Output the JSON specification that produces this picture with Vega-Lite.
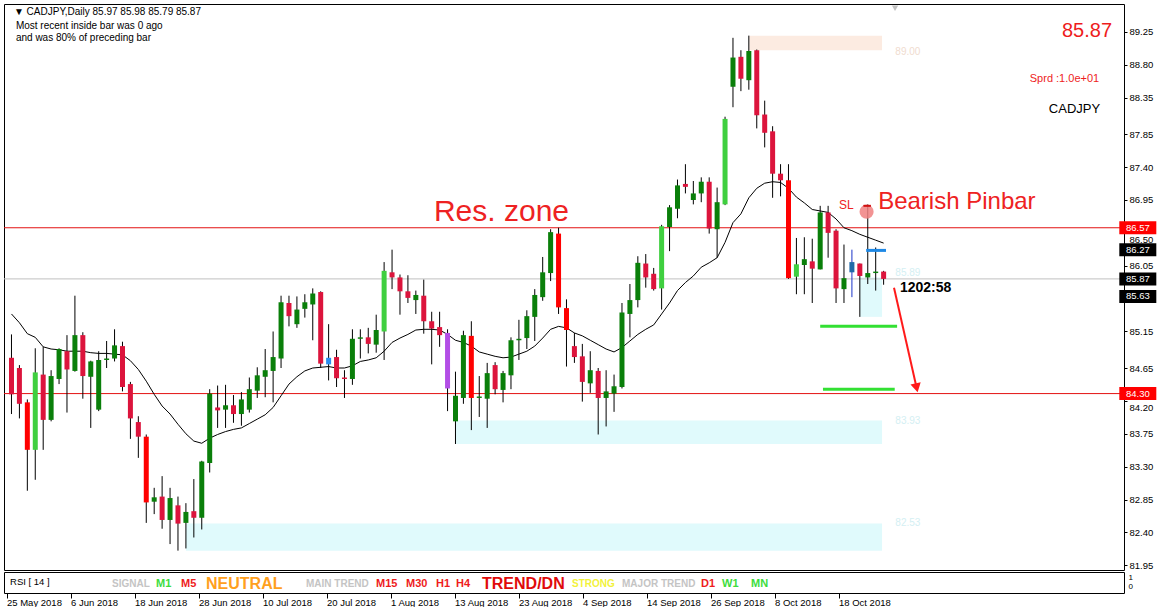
{
"$schema":"https://vega.github.io/schema/vega-lite/v6.json",
"background":"white",
"padding":{"left":3,"top":3,"right":0,"bottom":0},
"spacing":2,
"bounds":"flush",
"config":{"font":"Liberation Sans","view":{"stroke":"#000000","strokeWidth":1},
 "axis":{"labelFont":"Liberation Sans","labelFontSize":9.5,"labelColor":"#000000","tickColor":"#000000","domain":false,"grid":false,"labelOverlap":false,"labelFlush":false}},
"datasets":{"candles":[
{"i":0,"o":84.79,"h":85.11,"l":84.02,"c":84.29,"ma":85.39,"t":"bear"},
{"i":1,"o":84.65,"h":84.69,"l":83.96,"c":84.16,"ma":85.27,"t":"bear"},
{"i":2,"o":84.18,"h":84.22,"l":82.97,"c":83.53,"ma":85.12,"t":"sbear"},
{"i":3,"o":83.53,"h":84.92,"l":83.12,"c":84.59,"ma":85.07,"t":"sbull"},
{"i":4,"o":84.56,"h":84.94,"l":83.53,"c":83.94,"ma":84.94,"t":"bear"},
{"i":5,"o":83.94,"h":84.62,"l":83.92,"c":84.54,"ma":84.91,"t":"bull"},
{"i":6,"o":84.50,"h":84.92,"l":84.43,"c":84.91,"ma":84.90,"t":"bull"},
{"i":7,"o":84.88,"h":85.10,"l":84.04,"c":84.63,"ma":84.88,"t":"bear"},
{"i":8,"o":84.61,"h":85.64,"l":84.60,"c":85.10,"ma":84.88,"t":"bull"},
{"i":9,"o":85.10,"h":85.14,"l":84.23,"c":84.54,"ma":84.88,"t":"bear"},
{"i":10,"o":84.53,"h":84.75,"l":83.83,"c":84.74,"ma":84.86,"t":"bull"},
{"i":11,"o":84.08,"h":84.88,"l":84.06,"c":84.76,"ma":84.85,"t":"bull"},
{"i":12,"o":84.76,"h":85.02,"l":84.65,"c":84.78,"ma":84.85,"t":"bull"},
{"i":13,"o":84.78,"h":85.18,"l":84.74,"c":84.96,"ma":84.84,"t":"bull"},
{"i":14,"o":84.95,"h":85.01,"l":84.33,"c":84.39,"ma":84.83,"t":"bear"},
{"i":15,"o":84.43,"h":84.46,"l":83.68,"c":83.96,"ma":84.75,"t":"bear"},
{"i":16,"o":83.91,"h":83.99,"l":83.42,"c":83.71,"ma":84.63,"t":"bear"},
{"i":17,"o":83.71,"h":83.74,"l":82.53,"c":82.81,"ma":84.47,"t":"sbear"},
{"i":18,"o":82.82,"h":83.01,"l":82.65,"c":82.88,"ma":84.29,"t":"bull"},
{"i":19,"o":82.89,"h":83.17,"l":82.45,"c":82.57,"ma":84.13,"t":"bear"},
{"i":20,"o":82.57,"h":83.01,"l":82.24,"c":82.87,"ma":84.02,"t":"bull"},
{"i":21,"o":82.77,"h":82.89,"l":82.15,"c":82.52,"ma":83.88,"t":"bear"},
{"i":22,"o":82.53,"h":82.80,"l":82.18,"c":82.68,"ma":83.75,"t":"bull"},
{"i":23,"o":82.69,"h":83.13,"l":82.33,"c":82.60,"ma":83.65,"t":"bear"},
{"i":24,"o":82.60,"h":83.38,"l":82.44,"c":83.37,"ma":83.62,"t":"bull"},
{"i":25,"o":83.35,"h":84.36,"l":83.22,"c":84.30,"ma":83.69,"t":"bull"},
{"i":26,"o":84.11,"h":84.41,"l":83.83,"c":84.07,"ma":83.74,"t":"bear"},
{"i":27,"o":84.08,"h":84.42,"l":83.83,"c":84.14,"ma":83.78,"t":"bull"},
{"i":28,"o":84.14,"h":84.28,"l":83.90,"c":84.02,"ma":83.81,"t":"bear"},
{"i":29,"o":84.02,"h":84.32,"l":83.86,"c":84.22,"ma":83.83,"t":"bull"},
{"i":30,"o":84.08,"h":84.52,"l":84.04,"c":84.36,"ma":83.89,"t":"bull"},
{"i":31,"o":84.34,"h":84.66,"l":84.24,"c":84.55,"ma":83.95,"t":"bull"},
{"i":32,"o":84.53,"h":84.91,"l":84.25,"c":84.62,"ma":84.01,"t":"bull"},
{"i":33,"o":84.61,"h":85.15,"l":84.18,"c":84.80,"ma":84.11,"t":"bull"},
{"i":34,"o":84.78,"h":85.64,"l":84.65,"c":85.55,"ma":84.27,"t":"bull"},
{"i":35,"o":85.54,"h":85.64,"l":85.22,"c":85.36,"ma":84.43,"t":"bear"},
{"i":36,"o":85.25,"h":85.63,"l":85.20,"c":85.45,"ma":84.53,"t":"bull"},
{"i":37,"o":85.46,"h":85.66,"l":85.34,"c":85.55,"ma":84.61,"t":"bull"},
{"i":38,"o":85.52,"h":85.74,"l":85.03,"c":85.67,"ma":84.65,"t":"bull"},
{"i":39,"o":85.69,"h":85.70,"l":84.65,"c":84.71,"ma":84.66,"t":"bear"},
{"i":40,"o":84.70,"h":85.25,"l":84.48,"c":84.79,"ma":84.67,"t":"blue"},
{"i":41,"o":84.80,"h":84.90,"l":84.39,"c":84.51,"ma":84.65,"t":"bear"},
{"i":42,"o":84.52,"h":84.62,"l":84.24,"c":84.50,"ma":84.65,"t":"bear"},
{"i":43,"o":84.50,"h":85.18,"l":84.42,"c":85.05,"ma":84.68,"t":"bull"},
{"i":44,"o":85.05,"h":85.18,"l":84.78,"c":85.07,"ma":84.74,"t":"bull"},
{"i":45,"o":85.07,"h":85.20,"l":84.85,"c":84.98,"ma":84.76,"t":"bear"},
{"i":46,"o":84.97,"h":85.38,"l":84.86,"c":85.17,"ma":84.79,"t":"bull"},
{"i":47,"o":85.15,"h":86.10,"l":84.76,"c":85.98,"ma":84.88,"t":"sbull"},
{"i":48,"o":85.96,"h":86.27,"l":85.73,"c":85.89,"ma":85.00,"t":"bear"},
{"i":49,"o":85.89,"h":85.93,"l":85.38,"c":85.70,"ma":85.06,"t":"bear"},
{"i":50,"o":85.70,"h":85.92,"l":85.54,"c":85.61,"ma":85.11,"t":"bear"},
{"i":51,"o":85.58,"h":85.71,"l":85.39,"c":85.65,"ma":85.17,"t":"bull"},
{"i":52,"o":85.64,"h":85.86,"l":85.12,"c":85.29,"ma":85.18,"t":"bear"},
{"i":53,"o":85.29,"h":85.42,"l":84.70,"c":85.19,"ma":85.18,"t":"bear"},
{"i":54,"o":85.21,"h":85.42,"l":84.94,"c":85.10,"ma":85.17,"t":"bear"},
{"i":55,"o":85.13,"h":85.18,"l":84.06,"c":84.37,"ma":85.11,"t":"purple"},
{"i":56,"o":83.92,"h":84.60,"l":83.61,"c":84.27,"ma":85.03,"t":"bull"},
{"i":57,"o":84.24,"h":85.16,"l":84.16,"c":85.10,"ma":85.00,"t":"bull"},
{"i":58,"o":85.09,"h":85.29,"l":83.80,"c":84.24,"ma":84.95,"t":"sbear"},
{"i":59,"o":84.24,"h":84.54,"l":83.98,"c":84.26,"ma":84.87,"t":"bull"},
{"i":60,"o":84.23,"h":84.72,"l":83.83,"c":84.58,"ma":84.84,"t":"bull"},
{"i":61,"o":84.69,"h":84.73,"l":84.29,"c":84.36,"ma":84.81,"t":"bear"},
{"i":62,"o":84.35,"h":84.61,"l":84.18,"c":84.58,"ma":84.79,"t":"bull"},
{"i":63,"o":84.55,"h":85.07,"l":84.36,"c":85.03,"ma":84.80,"t":"bull"},
{"i":64,"o":85.03,"h":85.31,"l":84.76,"c":85.05,"ma":84.84,"t":"bull"},
{"i":65,"o":85.06,"h":85.44,"l":84.91,"c":85.36,"ma":84.88,"t":"bull"},
{"i":66,"o":85.35,"h":85.73,"l":85.02,"c":85.65,"ma":84.95,"t":"bull"},
{"i":67,"o":85.62,"h":86.17,"l":85.57,"c":85.96,"ma":85.06,"t":"bull"},
{"i":68,"o":85.95,"h":86.55,"l":85.84,"c":86.51,"ma":85.18,"t":"bull"},
{"i":69,"o":86.49,"h":86.57,"l":85.39,"c":85.48,"ma":85.22,"t":"sbear"},
{"i":70,"o":85.47,"h":85.59,"l":84.67,"c":85.17,"ma":85.20,"t":"sbear"},
{"i":71,"o":84.95,"h":85.13,"l":84.72,"c":84.80,"ma":85.13,"t":"bear"},
{"i":72,"o":84.81,"h":84.98,"l":84.19,"c":84.46,"ma":85.09,"t":"bear"},
{"i":73,"o":84.44,"h":84.88,"l":84.31,"c":84.62,"ma":85.03,"t":"bull"},
{"i":74,"o":84.61,"h":84.65,"l":83.74,"c":84.24,"ma":84.97,"t":"bear"},
{"i":75,"o":84.24,"h":84.62,"l":83.85,"c":84.33,"ma":84.91,"t":"bull"},
{"i":76,"o":84.30,"h":84.56,"l":84.05,"c":84.40,"ma":84.87,"t":"bull"},
{"i":77,"o":84.39,"h":85.54,"l":84.37,"c":85.41,"ma":84.93,"t":"bull"},
{"i":78,"o":85.39,"h":85.80,"l":85.07,"c":85.58,"ma":85.02,"t":"bull"},
{"i":79,"o":85.58,"h":86.18,"l":85.48,"c":86.09,"ma":85.11,"t":"bull"},
{"i":80,"o":86.08,"h":86.21,"l":85.75,"c":85.89,"ma":85.18,"t":"bear"},
{"i":81,"o":85.94,"h":86.02,"l":85.71,"c":85.73,"ma":85.24,"t":"bear"},
{"i":82,"o":85.74,"h":86.61,"l":85.45,"c":86.59,"ma":85.39,"t":"sbull"},
{"i":83,"o":86.58,"h":86.88,"l":86.25,"c":86.85,"ma":85.54,"t":"bull"},
{"i":84,"o":86.83,"h":87.23,"l":86.70,"c":87.15,"ma":85.71,"t":"bull"},
{"i":85,"o":87.17,"h":87.44,"l":87.04,"c":87.13,"ma":85.82,"t":"bear"},
{"i":86,"o":86.95,"h":87.21,"l":86.89,"c":87.04,"ma":85.91,"t":"bull"},
{"i":87,"o":87.04,"h":87.26,"l":86.92,"c":87.20,"ma":86.03,"t":"bull"},
{"i":88,"o":87.20,"h":87.26,"l":86.49,"c":86.56,"ma":86.09,"t":"bear"},
{"i":89,"o":86.55,"h":87.12,"l":86.16,"c":86.92,"ma":86.16,"t":"bull"},
{"i":90,"o":86.89,"h":88.09,"l":86.88,"c":88.06,"ma":86.37,"t":"sbull"},
{"i":91,"o":88.50,"h":89.17,"l":88.22,"c":88.90,"ma":86.64,"t":"bull"},
{"i":92,"o":88.91,"h":89.00,"l":88.44,"c":88.61,"ma":86.76,"t":"bear"},
{"i":93,"o":88.59,"h":89.20,"l":88.46,"c":88.99,"ma":86.98,"t":"bull"},
{"i":94,"o":89.00,"h":89.01,"l":87.93,"c":88.11,"ma":87.11,"t":"bear"},
{"i":95,"o":88.12,"h":88.31,"l":87.67,"c":87.87,"ma":87.18,"t":"bear"},
{"i":96,"o":87.89,"h":87.96,"l":86.98,"c":87.31,"ma":87.20,"t":"bear"},
{"i":97,"o":87.31,"h":87.44,"l":87.00,"c":87.22,"ma":87.19,"t":"bear"},
{"i":98,"o":87.22,"h":87.44,"l":85.87,"c":85.88,"ma":87.11,"t":"sbear"},
{"i":99,"o":85.90,"h":86.43,"l":85.66,"c":86.07,"ma":86.99,"t":"sbull"},
{"i":100,"o":86.06,"h":86.44,"l":85.66,"c":86.14,"ma":86.91,"t":"bull"},
{"i":101,"o":86.11,"h":86.42,"l":85.54,"c":86.01,"ma":86.82,"t":"bear"},
{"i":102,"o":86.00,"h":86.87,"l":86.00,"c":86.78,"ma":86.80,"t":"bull"},
{"i":103,"o":86.78,"h":86.87,"l":86.16,"c":86.50,"ma":86.78,"t":"bear"},
{"i":104,"o":86.53,"h":86.55,"l":85.54,"c":85.74,"ma":86.69,"t":"bear"},
{"i":105,"o":85.73,"h":86.34,"l":85.54,"c":85.88,"ma":86.57,"t":"bull"},
{"i":106,"o":85.96,"h":86.27,"l":85.62,"c":86.10,"ma":86.53,"t":"teal"},
{"i":107,"o":86.08,"h":86.08,"l":85.35,"c":85.91,"ma":86.48,"t":"bear"},
{"i":108,"o":85.89,"h":86.89,"l":85.80,"c":85.95,"ma":86.44,"t":"bull"},
{"i":109,"o":85.95,"h":86.30,"l":85.71,"c":85.97,"ma":86.40,"t":"bull"},
{"i":110,"o":85.97,"h":85.98,"l":85.79,"c":85.87,"ma":86.36,"t":"bear"}
]},
"vconcat":[
{"width":1120,"height":566,
 "resolve":{"axis":{"x":"independent","y":"independent"}},
 "layer":[
  {"data":{"values":[{"a":93.06,"b":109.8,"lo":89.0,"hi":89.2}]},
   "mark":{"type":"rect","color":"#fcebe1"},
   "encoding":{
    "x":{"field":"a","type":"quantitative","scale":{"domain":[-0.3125,139.6875],"nice":false,"zero":false},"axis":null},
    "x2":{"field":"b"},
    "y":{"field":"lo","type":"quantitative","scale":{"domain":[81.885,89.633],"nice":false,"zero":false},
     "axis":{"orient":"right","title":null,"values":[89.25,88.8,88.35,87.85,87.4,86.95,86.5,86.05,85.15,84.65,84.2,83.75,83.3,82.85,82.4,81.95],"format":".2f","tickSize":3,"labelPadding":2,"labelAlign":"left","labelBaseline":"middle","labelFontSize":9.5,"labelColor":"#000000","tickColor":"#000000","domain":false,"grid":false,
      "labelOffset":{"condition":{"test":"datum.value == 86.5 || datum.value == 84.2","value":7},"value":0}}},
    "y2":{"field":"hi"}}},
  {"data":{"values":[{"a":56.0,"b":109.8,"lo":83.61,"hi":83.93},{"a":22.0,"b":109.8,"lo":82.15,"hi":82.52},{"a":107.0,"b":109.8,"lo":85.35,"hi":85.89}]},
   "mark":{"type":"rect","color":"#e0fafc"},
   "encoding":{
    "x":{"field":"a","type":"quantitative","scale":{"domain":[-0.3125,139.6875],"nice":false,"zero":false},"axis":null},
    "x2":{"field":"b"},
    "y":{"field":"lo","type":"quantitative","scale":{"domain":[81.885,89.633],"nice":false,"zero":false},"axis":null},
    "y2":{"field":"hi"}}},
  {"data":{"values":[{"p":85.87}]},
   "mark":{"type":"rule","color":"#c0c0c0","strokeWidth":1},
   "encoding":{"y":{"field":"p","type":"quantitative","scale":{"domain":[81.885,89.633],"nice":false,"zero":false},"axis":null}}},
  {"data":{"values":[{"p":86.57},{"p":84.30}]},
   "mark":{"type":"rule","color":"#e31212","strokeWidth":1},
   "encoding":{"y":{"field":"p","type":"quantitative","scale":{"domain":[81.885,89.633],"nice":false,"zero":false},"axis":null}}},
  {"data":{"name":"candles"},
   "mark":{"type":"line","color":"#000000","strokeWidth":1},
   "encoding":{
    "x":{"field":"i","type":"quantitative","scale":{"domain":[-0.3125,139.6875],"nice":false,"zero":false},"axis":null},
    "y":{"field":"ma","type":"quantitative","scale":{"domain":[81.885,89.633],"nice":false,"zero":false},"axis":null}}},
  {"data":{"name":"candles"},
   "mark":{"type":"rule","strokeWidth":1},
   "encoding":{
    "x":{"field":"i","type":"quantitative","scale":{"domain":[-0.3125,139.6875],"nice":false,"zero":false},"axis":null},
    "y":{"field":"l","type":"quantitative","scale":{"domain":[81.885,89.633],"nice":false,"zero":false},"axis":null},
    "y2":{"field":"h"},
    "stroke":{"field":"t","type":"nominal","legend":null,"scale":{"domain":["bull","sbull","bear","sbear","purple","blue","teal"],"range":["#000000","#000000","#000000","#000000","#000000","#000000","#1a33c8"]}}}},
  {"data":{"name":"candles"},
   "mark":{"type":"bar","width":5,"strokeWidth":0},
   "encoding":{
    "x":{"field":"i","type":"quantitative","scale":{"domain":[-0.3125,139.6875],"nice":false,"zero":false},"axis":null},
    "y":{"field":"o","type":"quantitative","scale":{"domain":[81.885,89.633],"nice":false,"zero":false},"axis":null},
    "y2":{"field":"c"},
    "fill":{"field":"t","type":"nominal","legend":null,"scale":{"domain":["bull","sbull","bear","sbear","purple","blue","teal"],"range":["#0a7f0a","#3fcf3f","#dc143c","#ff0000","#b34ee6","#2a8ef0","#1f6aa8"]}}}},
  {"data":{"values":[{"a":102.0,"b":111.7,"p":85.22},{"a":102.35,"b":111.4,"p":84.36}]},
   "mark":{"type":"rule","color":"#33e033","strokeWidth":3},
   "encoding":{
    "x":{"field":"a","type":"quantitative","scale":{"domain":[-0.3125,139.6875],"nice":false,"zero":false},"axis":null},
    "x2":{"field":"b"},
    "y":{"field":"p","type":"quantitative","scale":{"domain":[81.885,89.633],"nice":false,"zero":false},"axis":null}}},
  {"data":{"values":[{"a":107.8,"b":110.3,"p":86.26}]},
   "mark":{"type":"rule","color":"#1e88e5","strokeWidth":3},
   "encoding":{
    "x":{"field":"a","type":"quantitative","scale":{"domain":[-0.3125,139.6875],"nice":false,"zero":false},"axis":null},
    "x2":{"field":"b"},
    "y":{"field":"p","type":"quantitative","scale":{"domain":[81.885,89.633],"nice":false,"zero":false},"axis":null}}},
  {"data":{"values":[{"a":111.31,"b":114.16,"p":85.75,"q":84.38}]},
   "mark":{"type":"rule","color":"#ff1a1a","strokeWidth":2},
   "encoding":{
    "x":{"field":"a","type":"quantitative","scale":{"domain":[-0.3125,139.6875],"nice":false,"zero":false},"axis":null},
    "x2":{"field":"b"},
    "y":{"field":"p","type":"quantitative","scale":{"domain":[81.885,89.633],"nice":false,"zero":false},"axis":null},
    "y2":{"field":"q"}}},
  {"data":{"values":[{"i":114.16,"p":84.38}]},
   "mark":{"type":"point","shape":"triangle-down","filled":true,"color":"#ff1a1a","opacity":1,"size":110,"angle":347},
   "encoding":{
    "x":{"field":"i","type":"quantitative","scale":{"domain":[-0.3125,139.6875],"nice":false,"zero":false},"axis":null},
    "y":{"field":"p","type":"quantitative","scale":{"domain":[81.885,89.633],"nice":false,"zero":false},"axis":null}}},
  {"data":{"values":[{"i":107.85,"p":86.79}]},
   "mark":{"type":"point","shape":"circle","filled":true,"color":"#f08080","opacity":0.85,"size":200},
   "encoding":{
    "x":{"field":"i","type":"quantitative","scale":{"domain":[-0.3125,139.6875],"nice":false,"zero":false},"axis":null},
    "y":{"field":"p","type":"quantitative","scale":{"domain":[81.885,89.633],"nice":false,"zero":false},"axis":null}}},
  {"data":{"values":[{"a":107.45,"b":108.4,"p":86.87}]},
   "mark":{"type":"rule","color":"#d01010","strokeWidth":2},
   "encoding":{
    "x":{"field":"a","type":"quantitative","scale":{"domain":[-0.3125,139.6875],"nice":false,"zero":false},"axis":null},
    "x2":{"field":"b"},
    "y":{"field":"p","type":"quantitative","scale":{"domain":[81.885,89.633],"nice":false,"zero":false},"axis":null}}},
  {"data":{"values":[{"i":111.44,"p":89.575}]},
   "mark":{"type":"point","shape":"triangle-down","filled":true,"color":"#a8a8a8","size":40},
   "encoding":{
    "x":{"field":"i","type":"quantitative","scale":{"domain":[-0.3125,139.6875],"nice":false,"zero":false},"axis":null},
    "y":{"field":"p","type":"quantitative","scale":{"domain":[81.885,89.633],"nice":false,"zero":false},"axis":null}}},
  {"data":{"values":[{"i":61.8,"p":86.66,"s":"Res. zone"}]},
   "mark":{"type":"text","align":"center","baseline":"alphabetic","fontSize":30,"color":"#ee2222","font":"Liberation Sans"},
   "encoding":{
    "x":{"field":"i","type":"quantitative","scale":{"domain":[-0.3125,139.6875],"nice":false,"zero":false},"axis":null},
    "y":{"field":"p","type":"quantitative","scale":{"domain":[81.885,89.633],"nice":false,"zero":false},"axis":null},
    "text":{"field":"s"}}},
  {"data":{"values":[{"i":109.31,"p":86.83,"s":"Bearish Pinbar"}]},
   "mark":{"type":"text","align":"left","baseline":"alphabetic","fontSize":24,"color":"#ee2222","font":"Liberation Sans"},
   "encoding":{
    "x":{"field":"i","type":"quantitative","scale":{"domain":[-0.3125,139.6875],"nice":false,"zero":false},"axis":null},
    "y":{"field":"p","type":"quantitative","scale":{"domain":[81.885,89.633],"nice":false,"zero":false},"axis":null},
    "text":{"field":"s"}}},
  {"data":{"values":[{"i":105.3,"p":86.83,"s":"SL"}]},
   "mark":{"type":"text","align":"center","baseline":"alphabetic","fontSize":12,"color":"#ee2222","font":"Liberation Sans"},
   "encoding":{
    "x":{"field":"i","type":"quantitative","scale":{"domain":[-0.3125,139.6875],"nice":false,"zero":false},"axis":null},
    "y":{"field":"p","type":"quantitative","scale":{"domain":[81.885,89.633],"nice":false,"zero":false},"axis":null},
    "text":{"field":"s"}}},
  {"data":{"values":[{"i":112.06,"p":85.745,"s":"1202:58"}]},
   "mark":{"type":"text","align":"left","baseline":"middle","fontSize":14,"fontWeight":"bold","color":"#000000","font":"Liberation Sans"},
   "encoding":{
    "x":{"field":"i","type":"quantitative","scale":{"domain":[-0.3125,139.6875],"nice":false,"zero":false},"axis":null},
    "y":{"field":"p","type":"quantitative","scale":{"domain":[81.885,89.633],"nice":false,"zero":false},"axis":null},
    "text":{"field":"s"}}},
  {"data":{"values":[{"i":138.81,"p":89.263,"s":"85.87"}]},
   "mark":{"type":"text","align":"right","baseline":"middle","fontSize":20,"color":"#ee1c1c","font":"Liberation Sans"},
   "encoding":{
    "x":{"field":"i","type":"quantitative","scale":{"domain":[-0.3125,139.6875],"nice":false,"zero":false},"axis":null},
    "y":{"field":"p","type":"quantitative","scale":{"domain":[81.885,89.633],"nice":false,"zero":false},"axis":null},
    "text":{"field":"s"}}},
  {"data":{"values":[{"i":137.19,"p":88.606,"s":"Sprd :1.0e+01"}]},
   "mark":{"type":"text","align":"right","baseline":"middle","fontSize":11,"color":"#ee1c1c","font":"Liberation Sans"},
   "encoding":{
    "x":{"field":"i","type":"quantitative","scale":{"domain":[-0.3125,139.6875],"nice":false,"zero":false},"axis":null},
    "y":{"field":"p","type":"quantitative","scale":{"domain":[81.885,89.633],"nice":false,"zero":false},"axis":null},
    "text":{"field":"s"}}},
  {"data":{"values":[{"i":137.31,"p":88.196,"s":"CADJPY"}]},
   "mark":{"type":"text","align":"right","baseline":"middle","fontSize":13,"color":"#000000","font":"Liberation Sans"},
   "encoding":{
    "x":{"field":"i","type":"quantitative","scale":{"domain":[-0.3125,139.6875],"nice":false,"zero":false},"axis":null},
    "y":{"field":"p","type":"quantitative","scale":{"domain":[81.885,89.633],"nice":false,"zero":false},"axis":null},
    "text":{"field":"s"}}},
  {"data":{"values":[{"i":0.31,"p":89.523,"s":"▼  CADJPY,Daily  85.97 85.98 85.79 85.87"},{"i":0.56,"p":89.332,"s":"Most recent inside bar was 0 ago"},{"i":0.56,"p":89.167,"s":"and was 80% of preceding bar"}]},
   "mark":{"type":"text","align":"left","baseline":"middle","fontSize":10,"color":"#000000","font":"Liberation Sans"},
   "encoding":{
    "x":{"field":"i","type":"quantitative","scale":{"domain":[-0.3125,139.6875],"nice":false,"zero":false},"axis":null},
    "y":{"field":"p","type":"quantitative","scale":{"domain":[81.885,89.633],"nice":false,"zero":false},"axis":null},
    "text":{"field":"s"}}},
  {"data":{"values":[{"i":113.06,"p":88.976,"s":"89.00"}]},
   "mark":{"type":"text","align":"center","baseline":"middle","fontSize":10,"color":"#f0dccf","font":"Liberation Sans"},
   "encoding":{
    "x":{"field":"i","type":"quantitative","scale":{"domain":[-0.3125,139.6875],"nice":false,"zero":false},"axis":null},
    "y":{"field":"p","type":"quantitative","scale":{"domain":[81.885,89.633],"nice":false,"zero":false},"axis":null},
    "text":{"field":"s"}}},
  {"data":{"values":[{"i":113.06,"p":85.95,"s":"85.89"},{"i":113.06,"p":83.93,"s":"83.93"},{"i":113.06,"p":82.53,"s":"82.53"}]},
   "mark":{"type":"text","align":"center","baseline":"middle","fontSize":10,"color":"#d4eff3","font":"Liberation Sans"},
   "encoding":{
    "x":{"field":"i","type":"quantitative","scale":{"domain":[-0.3125,139.6875],"nice":false,"zero":false},"axis":null},
    "y":{"field":"p","type":"quantitative","scale":{"domain":[81.885,89.633],"nice":false,"zero":false},"axis":null},
    "text":{"field":"s"}}},
  {"data":{"values":[{"i":142.06,"p":86.57},{"i":142.06,"p":84.30}]},
   "mark":{"type":"tick","orient":"horizontal","size":37,"thickness":13,"color":"#ff0000","opacity":1},
   "encoding":{
    "x":{"field":"i","type":"quantitative","scale":{"domain":[-0.3125,139.6875],"nice":false,"zero":false},"axis":null},
    "y":{"field":"p","type":"quantitative","scale":{"domain":[81.885,89.633],"nice":false,"zero":false},"axis":null}}},
  {"data":{"values":[{"i":142.06,"p":86.27},{"i":142.06,"p":85.87},{"i":142.06,"p":85.63}]},
   "mark":{"type":"tick","orient":"horizontal","size":37,"thickness":13,"color":"#000000","opacity":1},
   "encoding":{
    "x":{"field":"i","type":"quantitative","scale":{"domain":[-0.3125,139.6875],"nice":false,"zero":false},"axis":null},
    "y":{"field":"p","type":"quantitative","scale":{"domain":[81.885,89.633],"nice":false,"zero":false},"axis":null}}},
  {"data":{"values":[{"i":142.06,"p":86.57,"s":"86.57"},{"i":142.06,"p":84.30,"s":"84.30"},{"i":142.06,"p":86.27,"s":"86.27"},{"i":142.06,"p":85.87,"s":"85.87"},{"i":142.06,"p":85.63,"s":"85.63"}]},
   "mark":{"type":"text","align":"center","baseline":"middle","fontSize":9.5,"color":"#ffffff","font":"Liberation Sans"},
   "encoding":{
    "x":{"field":"i","type":"quantitative","scale":{"domain":[-0.3125,139.6875],"nice":false,"zero":false},"axis":null},
    "y":{"field":"p","type":"quantitative","scale":{"domain":[81.885,89.633],"nice":false,"zero":false},"axis":null},
    "text":{"field":"s"}}}
 ]},
{"width":1120,"height":21,
 "resolve":{"axis":{"x":"independent","y":"independent"}},
 "layer":[
  {"data":{"values":[{"i":0.44,"y":0.444,"s":"RSI [ 14 ]"}]},
   "mark":{"type":"text","align":"left","baseline":"middle","fontSize":9.5,"color":"#000000","font":"Liberation Sans"},
   "encoding":{
    "x":{"field":"i","type":"quantitative","scale":{"domain":[-0.3125,139.6875],"nice":false,"zero":false},
     "axis":{"orient":"bottom","title":null,"values":[0,8,16,24,32,40,48,56,64,72,80,88,96,104],"labelExpr":"['25 May 2018','6 Jun 2018','18 Jun 2018','28 Jun 2018','10 Jul 2018','20 Jul 2018','1 Aug 2018','13 Aug 2018','23 Aug 2018','4 Sep 2018','14 Sep 2018','26 Sep 2018','8 Oct 2018','18 Oct 2018'][round(datum.value/8)]","tickSize":5,"labelAlign":"left","labelDx":2,"labelBaseline":"middle","labelPadding":4,"labelFontSize":9.5,"labelColor":"#000000","tickColor":"#000000","domain":false,"grid":false}},
    "y":{"field":"y","type":"quantitative","scale":{"domain":[-0.778,1.556],"nice":false,"zero":false},
     "axis":{"orient":"right","title":null,"values":[1,0],"format":"d","ticks":false,"labelPadding":4,"labelAlign":"left","labelBaseline":"middle","labelFontSize":8,"labelColor":"#000000","domain":false,"grid":false}},
    "text":{"field":"s"}}},
  {"data":{"values":[{"i":13.19,"s":"SIGNAL"},{"i":37.44,"s":"MAIN TREND"},{"i":76.94,"s":"MAJOR TREND"}]},
   "mark":{"type":"text","align":"left","baseline":"middle","fontSize":10,"fontWeight":"bold","color":"#c4c4c4","font":"Liberation Sans"},
   "encoding":{
    "x":{"field":"i","type":"quantitative","scale":{"domain":[-0.3125,139.6875],"nice":false,"zero":false},"axis":null},
    "y":{"datum":0.167,"type":"quantitative","scale":{"domain":[-0.778,1.556],"nice":false,"zero":false},"axis":null},
    "text":{"field":"s"}}},
  {"data":{"values":[{"i":21.81,"s":"M5"},{"i":46.19,"s":"M15"},{"i":49.94,"s":"M30"},{"i":53.69,"s":"H1"},{"i":56.19,"s":"H4"},{"i":86.81,"s":"D1"}]},
   "mark":{"type":"text","align":"left","baseline":"middle","fontSize":11,"fontWeight":"bold","color":"#ee1c1c","font":"Liberation Sans"},
   "encoding":{
    "x":{"field":"i","type":"quantitative","scale":{"domain":[-0.3125,139.6875],"nice":false,"zero":false},"axis":null},
    "y":{"datum":0.167,"type":"quantitative","scale":{"domain":[-0.778,1.556],"nice":false,"zero":false},"axis":null},
    "text":{"field":"s"}}},
  {"data":{"values":[{"i":18.69,"s":"M1"},{"i":89.44,"s":"W1"},{"i":93.06,"s":"MN"}]},
   "mark":{"type":"text","align":"left","baseline":"middle","fontSize":11,"fontWeight":"bold","color":"#3ddc3d","font":"Liberation Sans"},
   "encoding":{
    "x":{"field":"i","type":"quantitative","scale":{"domain":[-0.3125,139.6875],"nice":false,"zero":false},"axis":null},
    "y":{"datum":0.167,"type":"quantitative","scale":{"domain":[-0.778,1.556],"nice":false,"zero":false},"axis":null},
    "text":{"field":"s"}}},
  {"data":{"values":[{"i":24.94,"s":"NEUTRAL"}]},
   "mark":{"type":"text","align":"left","baseline":"middle","fontSize":16,"fontWeight":"bold","color":"#ffa01e","font":"Liberation Sans"},
   "encoding":{
    "x":{"field":"i","type":"quantitative","scale":{"domain":[-0.3125,139.6875],"nice":false,"zero":false},"axis":null},
    "y":{"datum":0.167,"type":"quantitative","scale":{"domain":[-0.778,1.556],"nice":false,"zero":false},"axis":null},
    "text":{"field":"s"}}},
  {"data":{"values":[{"i":59.44,"s":"TREND/DN"}]},
   "mark":{"type":"text","align":"left","baseline":"middle","fontSize":16,"fontWeight":"bold","color":"#e00b0b","font":"Liberation Sans"},
   "encoding":{
    "x":{"field":"i","type":"quantitative","scale":{"domain":[-0.3125,139.6875],"nice":false,"zero":false},"axis":null},
    "y":{"datum":0.167,"type":"quantitative","scale":{"domain":[-0.778,1.556],"nice":false,"zero":false},"axis":null},
    "text":{"field":"s"}}},
  {"data":{"values":[{"i":70.69,"s":"STRONG"}]},
   "mark":{"type":"text","align":"left","baseline":"middle","fontSize":10,"fontWeight":"bold","color":"#f2f23a","font":"Liberation Sans"},
   "encoding":{
    "x":{"field":"i","type":"quantitative","scale":{"domain":[-0.3125,139.6875],"nice":false,"zero":false},"axis":null},
    "y":{"datum":0.167,"type":"quantitative","scale":{"domain":[-0.778,1.556],"nice":false,"zero":false},"axis":null},
    "text":{"field":"s"}}}
 ]}
]
}
